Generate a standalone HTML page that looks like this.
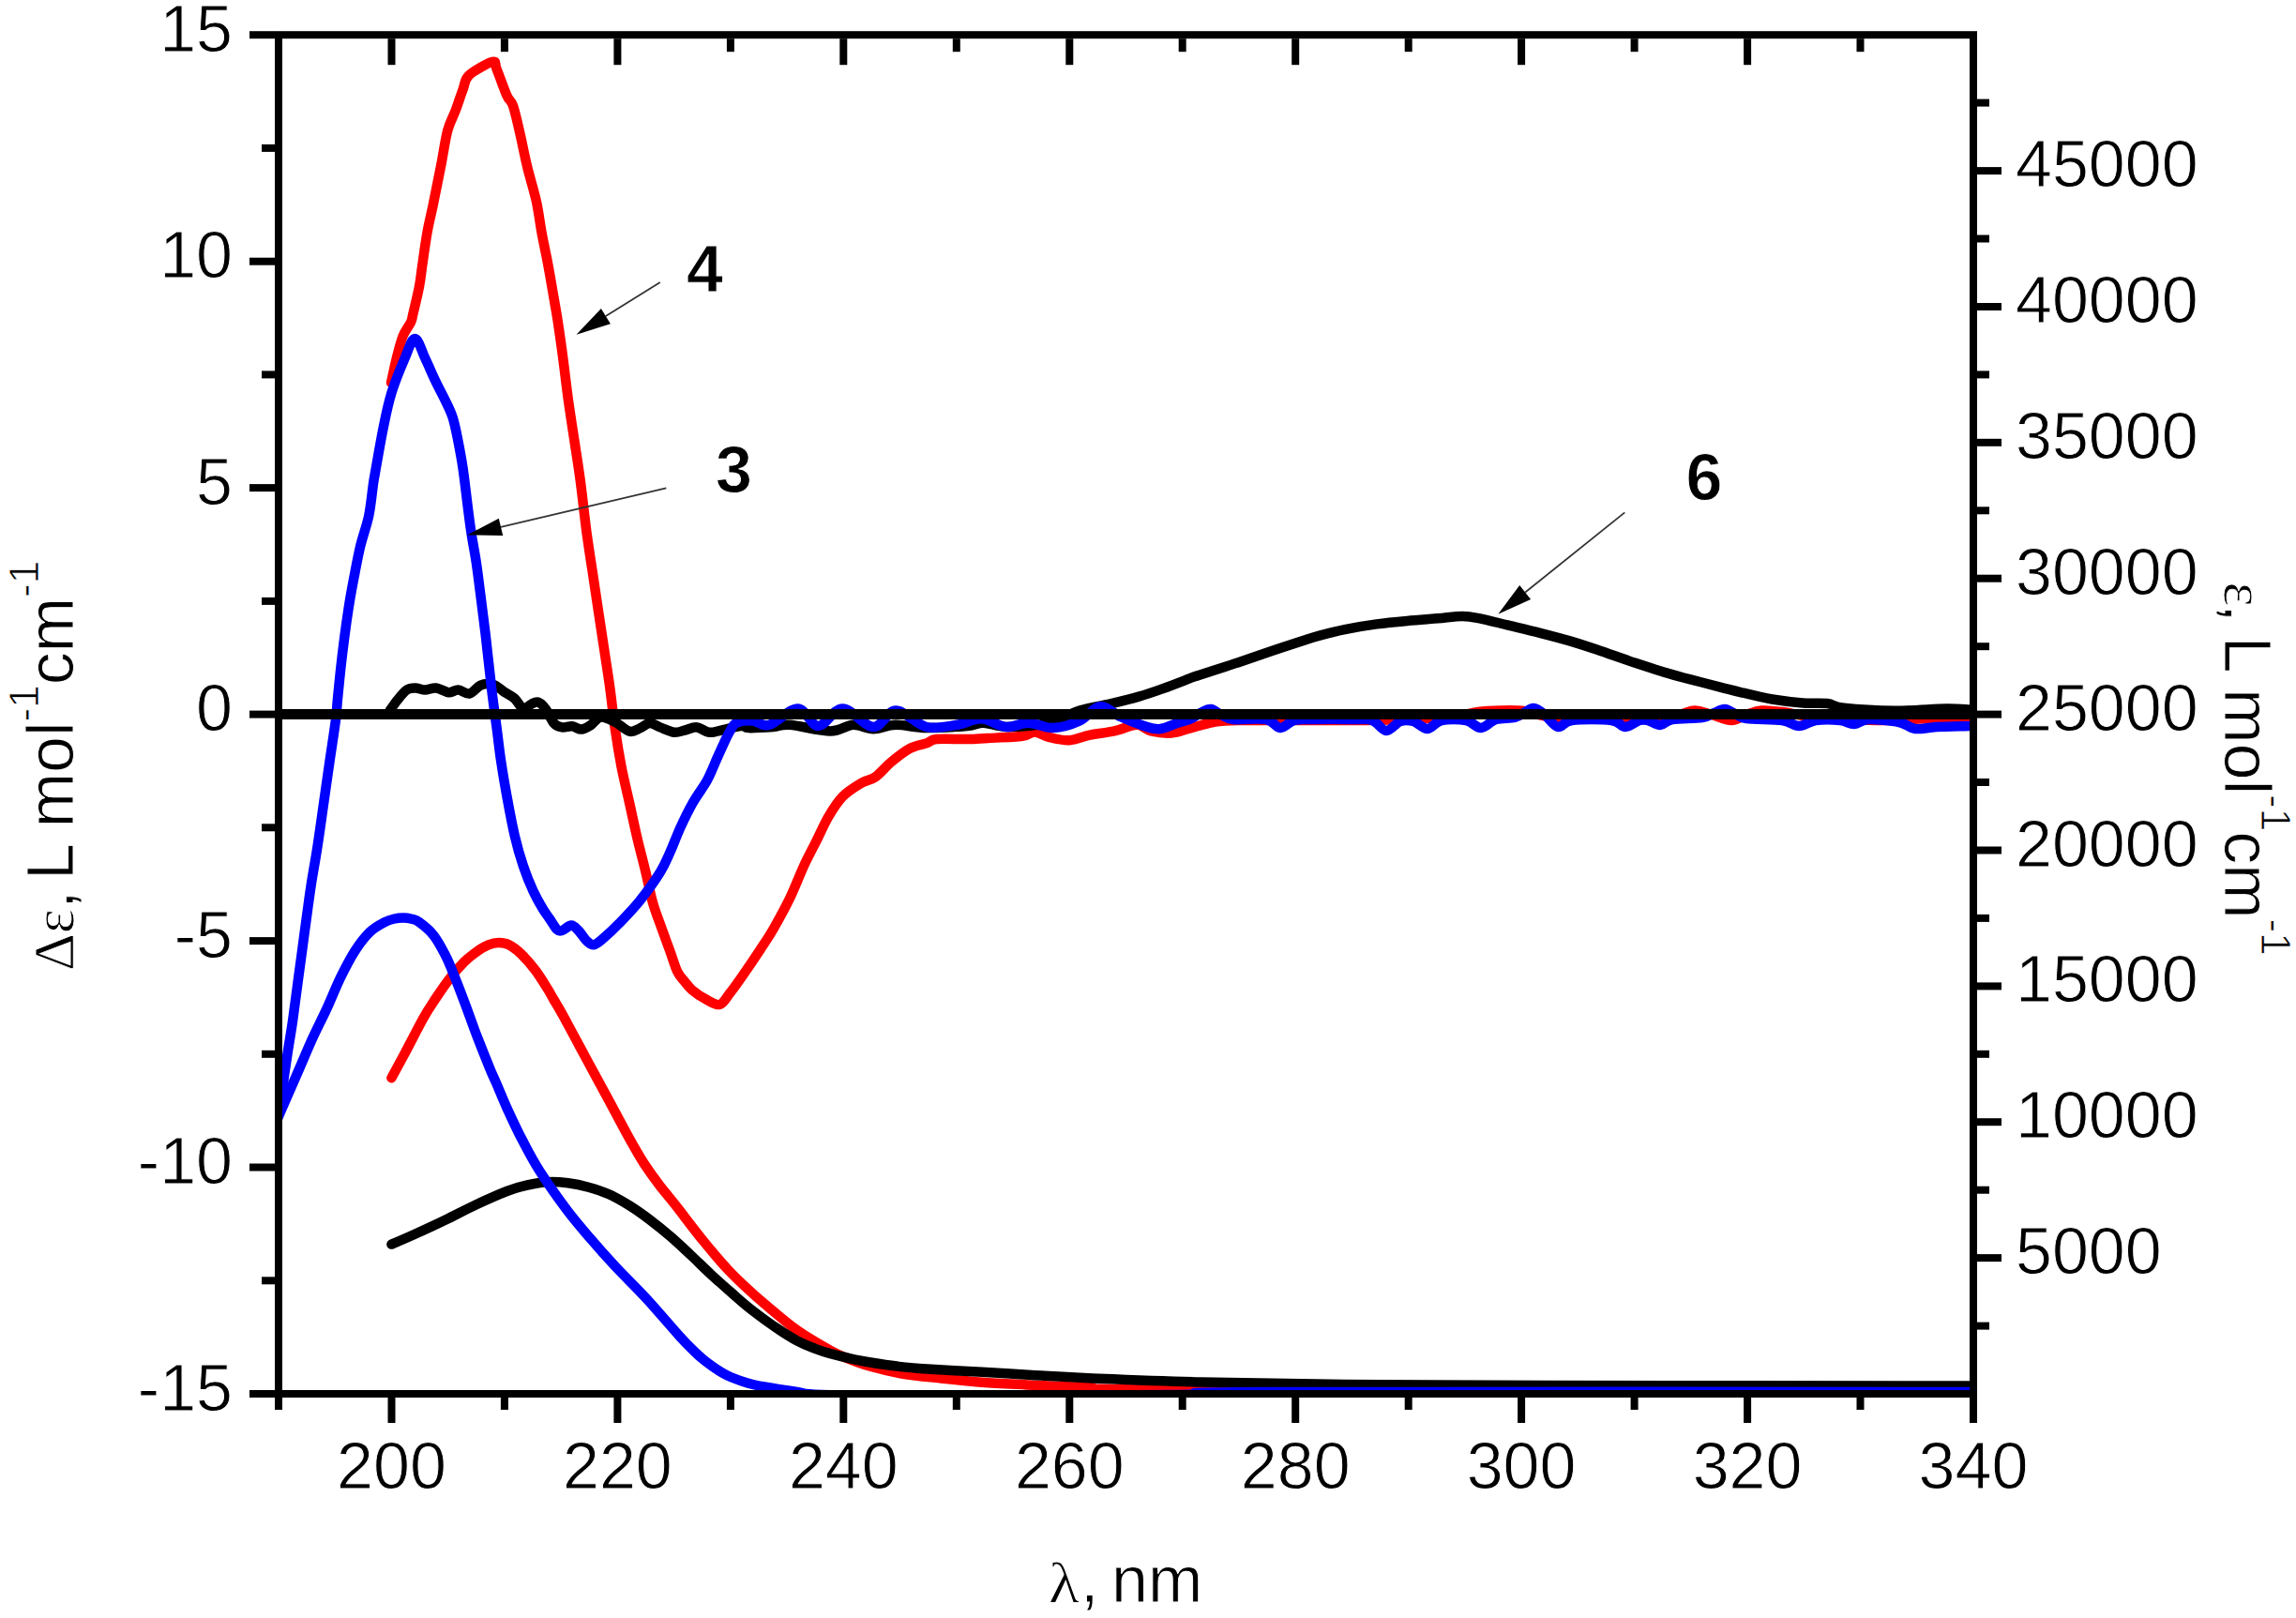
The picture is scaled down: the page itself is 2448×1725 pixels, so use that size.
<!DOCTYPE html>
<html><head><meta charset="utf-8"><title>CD and UV spectra</title>
<style>html,body{margin:0;padding:0;background:#fff}svg{display:block}</style></head>
<body>
<svg width="2448" height="1725" viewBox="0 0 2448 1725">
<defs><clipPath id="plot"><rect x="297.0" y="37.2" width="1807.0" height="1452.8"/></clipPath></defs>
<rect width="2448" height="1725" fill="#fff"/>
<g clip-path="url(#plot)" fill="none" stroke-width="10.5" stroke-linejoin="round" stroke-linecap="round">
<path d="M417.4 1149.2C419.8 1144.8 426.0 1133.5 431.6 1123.0C437.2 1112.5 445.7 1095.7 451.1 1086.0C456.5 1076.3 459.5 1072.1 464.2 1065.0C468.9 1057.9 474.4 1049.7 479.5 1043.2C484.6 1036.7 490.0 1030.5 494.7 1025.8C499.4 1021.1 503.5 1018.0 507.8 1014.9C512.1 1011.8 516.8 1008.9 520.8 1007.3C524.8 1005.7 528.1 1005.1 531.7 1005.1C535.3 1005.1 538.6 1005.3 542.6 1007.3C546.6 1009.3 551.0 1012.6 555.7 1017.1C560.4 1021.6 566.2 1028.3 570.9 1034.5C575.6 1040.7 580.8 1049.4 584.0 1054.5C587.2 1059.6 587.2 1060.2 590.0 1065.0C592.8 1069.8 595.8 1074.4 600.5 1083.0C605.2 1091.6 612.5 1105.3 618.5 1116.5C624.5 1127.7 630.4 1138.6 636.6 1150.0C642.8 1161.4 649.2 1173.3 655.5 1185.0C661.8 1196.7 669.2 1210.7 674.5 1220.0C679.8 1229.3 682.1 1233.6 687.0 1241.0C691.9 1248.4 698.4 1257.4 703.8 1264.5C709.2 1271.6 711.6 1273.9 719.2 1283.6C726.9 1293.3 740.3 1311.2 749.7 1322.8C759.1 1334.4 767.9 1344.7 775.8 1353.2C783.7 1361.7 790.5 1367.9 797.0 1374.0C803.5 1380.1 806.0 1382.4 814.8 1389.7C823.6 1397.0 838.1 1409.8 849.7 1418.1C861.3 1426.4 875.8 1434.4 884.5 1439.3C893.2 1444.2 894.7 1444.6 902.0 1447.5C909.3 1450.4 918.4 1454.0 928.1 1456.8C937.8 1459.6 947.4 1462.1 960.0 1464.2C972.6 1466.3 989.1 1467.9 1003.6 1469.5C1018.1 1471.1 1031.9 1472.6 1047.1 1473.8C1062.3 1475.0 1076.2 1475.5 1095.0 1476.4C1113.8 1477.3 1134.2 1478.2 1160.0 1479.0C1185.8 1479.8 1093.3 1480.5 1250.0 1481.0C1406.7 1481.5 1958.3 1481.8 2100.0 1482.0" stroke="#f00"/>
<path d="M417.4 1326.6C421.6 1324.8 432.8 1320.0 442.4 1315.7C452.0 1311.4 464.2 1305.8 475.1 1300.5C486.0 1295.2 496.9 1289.3 507.8 1284.2C518.7 1279.1 531.3 1273.5 540.4 1270.0C549.5 1266.5 554.9 1265.1 562.2 1263.5C569.5 1261.9 576.7 1260.6 584.0 1260.2C591.3 1259.8 598.5 1260.4 605.8 1261.3C613.0 1262.2 620.2 1263.7 627.5 1265.7C634.8 1267.7 642.0 1270.0 649.3 1273.3C656.6 1276.6 663.8 1280.8 671.1 1285.3C678.4 1289.8 685.6 1295.0 692.9 1300.5C700.1 1306.0 707.4 1311.8 714.6 1318.0C721.9 1324.2 729.1 1331.2 736.4 1338.0C743.7 1344.8 750.9 1352.1 758.2 1358.8C765.5 1365.5 773.5 1372.6 780.0 1378.3C786.5 1384.0 791.2 1388.3 797.0 1393.0C802.8 1397.7 809.0 1402.3 814.8 1406.6C820.6 1410.8 826.2 1414.7 832.0 1418.5C837.8 1422.3 843.9 1426.2 849.7 1429.3C855.5 1432.4 861.2 1434.8 867.0 1437.0C872.8 1439.2 875.8 1440.5 884.5 1442.8C893.2 1445.1 907.8 1448.8 919.4 1451.0C931.0 1453.2 944.1 1455.0 954.2 1456.3C964.3 1457.6 964.5 1457.8 980.0 1458.9C995.5 1460.0 1027.1 1461.6 1047.1 1462.8C1067.1 1464.0 1081.2 1464.9 1100.0 1466.0C1118.8 1467.1 1130.0 1468.0 1160.0 1469.3C1190.0 1470.5 1234.5 1472.4 1280.0 1473.5C1325.5 1474.6 1371.3 1475.4 1433.0 1476.0C1494.7 1476.6 1538.8 1476.8 1650.0 1477.0C1761.2 1477.2 2025.0 1477.4 2100.0 1477.5" stroke="#000"/>
<path d="M288.0 1212.0C290.2 1206.8 296.3 1191.9 301.0 1181.0C305.7 1170.1 310.8 1158.7 316.1 1146.4C321.5 1134.1 327.7 1119.2 333.1 1107.2C338.6 1095.2 343.8 1085.4 348.8 1074.5C353.8 1063.6 358.2 1052.1 363.2 1041.9C368.2 1031.7 373.7 1021.2 378.9 1013.1C384.1 1005.0 389.3 998.5 394.5 993.5C399.7 988.5 405.8 985.4 410.2 983.1C414.6 980.8 417.4 980.3 420.7 979.5C424.0 978.7 426.9 978.5 429.8 978.5C432.7 978.5 435.2 978.7 438.0 979.5C440.8 980.3 442.7 980.1 446.8 983.1C450.9 986.1 457.7 991.3 462.5 997.4C467.3 1003.5 471.6 1011.9 475.5 1019.7C479.4 1027.5 482.5 1035.8 486.0 1044.5C489.5 1053.2 492.6 1061.5 496.5 1071.9C500.4 1082.4 505.1 1095.9 509.5 1107.2C513.9 1118.5 519.4 1132.1 522.6 1139.9C525.8 1147.7 525.7 1146.9 528.8 1154.0C531.9 1161.1 536.4 1172.5 541.1 1182.7C545.8 1192.9 551.1 1204.4 556.8 1215.3C562.5 1226.2 567.3 1235.8 575.1 1248.0C582.9 1260.2 594.5 1276.7 603.6 1288.8C612.7 1300.9 621.0 1310.5 629.7 1320.7C638.4 1330.9 645.9 1339.3 655.9 1350.0C665.9 1360.7 678.3 1372.6 689.7 1385.0C701.1 1397.4 716.1 1415.2 724.5 1424.5C732.9 1433.8 735.8 1436.3 740.0 1440.5C744.2 1444.7 746.7 1446.8 750.0 1449.5C753.3 1452.2 756.7 1454.7 760.0 1457.0C763.3 1459.3 766.7 1461.6 770.0 1463.5C773.3 1465.4 775.5 1466.7 780.0 1468.5C784.5 1470.3 791.2 1472.8 797.0 1474.5C802.8 1476.2 806.0 1476.9 814.8 1478.5C823.6 1480.1 839.8 1482.6 850.0 1484.0C860.2 1485.4 851.0 1486.3 876.0 1487.0C901.0 1487.7 937.7 1488.0 1000.0 1488.0C1062.3 1488.0 1190.5 1487.7 1250.0 1487.0C1309.5 1486.3 1215.3 1484.5 1357.0 1484.0C1498.7 1483.5 1976.2 1484.0 2100.0 1484.0" stroke="#00f"/>
<path d="M417.0 408.0C418.0 403.7 420.7 390.2 422.8 382.0C424.9 373.8 426.9 365.2 429.4 358.8C431.9 352.4 436.2 347.6 438.0 343.6C439.8 339.6 438.8 341.1 440.3 334.9C441.8 328.7 445.2 315.0 446.8 306.6C448.4 298.2 448.6 294.6 450.0 284.8C451.4 275.0 453.5 259.1 455.5 247.8C457.5 236.6 459.5 229.7 462.0 217.3C464.5 205.0 468.1 186.8 470.7 173.7C473.2 160.6 474.8 148.3 477.3 138.9C479.9 129.5 483.3 124.3 486.0 117.0C488.7 109.7 491.2 101.5 493.6 95.3C496.0 89.1 494.9 85.0 500.2 80.1C505.5 75.2 520.3 67.0 525.2 65.9C530.1 64.8 527.0 67.6 529.5 73.6C532.0 79.6 537.5 95.4 540.4 101.9C543.3 108.4 544.6 105.9 547.0 112.8C549.4 119.7 552.1 132.3 554.6 143.2C557.1 154.1 559.3 166.1 562.2 178.1C565.1 190.1 569.5 203.5 572.0 215.1C574.5 226.7 575.5 236.9 577.5 247.8C579.5 258.7 581.8 268.8 584.0 280.4C586.2 292.0 588.7 307.0 590.5 317.5C592.3 328.0 593.3 332.9 594.9 343.6C596.5 354.4 598.5 368.3 600.3 382.0C602.1 395.7 603.8 411.1 605.8 425.6C607.8 440.1 610.1 454.6 612.3 469.1C614.5 483.6 616.6 496.4 618.8 512.7C621.0 529.0 623.2 550.8 625.4 567.1C627.6 583.4 629.7 596.2 631.9 610.7C634.1 625.2 636.2 639.7 638.4 654.2C640.6 668.7 643.0 684.5 645.0 697.8C647.0 711.1 648.6 720.7 650.4 734.0C652.2 747.3 653.9 763.8 655.9 777.6C657.9 791.4 659.9 803.7 662.4 816.8C664.9 829.9 668.2 843.0 671.1 856.0C674.0 869.0 676.9 882.8 679.8 895.1C682.7 907.4 685.8 918.7 688.5 930.0C691.2 941.3 693.2 952.7 696.1 962.7C699.0 972.7 702.6 981.6 705.6 990.0C708.6 998.4 711.2 1005.4 714.0 1013.0C716.8 1020.6 719.5 1030.2 722.2 1035.8C724.9 1041.4 727.4 1043.2 730.0 1046.5C732.6 1049.8 734.2 1052.3 737.9 1055.4C741.6 1058.5 747.4 1062.6 752.3 1065.2C757.2 1067.8 762.9 1072.1 767.3 1071.0C771.6 1069.9 773.8 1064.5 778.4 1058.6C783.0 1052.7 789.3 1043.6 794.8 1035.8C800.2 1028.0 806.1 1019.2 811.1 1011.6C816.1 1004.0 819.7 998.9 824.8 990.0C829.9 981.1 836.5 969.1 841.9 958.0C847.3 946.9 852.4 933.3 857.1 923.1C861.8 912.9 865.9 905.7 870.2 897.0C874.6 888.3 878.5 878.8 883.2 870.8C887.9 862.8 892.7 855.1 898.5 849.1C904.3 843.1 912.3 838.4 918.1 834.9C923.9 831.4 927.9 832.2 933.3 828.4C938.7 824.6 944.5 817.1 950.7 812.0C956.9 806.9 964.1 801.2 970.3 797.9C976.5 794.6 983.1 794.0 987.8 792.4C992.5 790.8 991.4 788.8 998.6 788.1C1005.9 787.4 1022.2 788.3 1031.3 788.1C1040.4 787.9 1043.3 787.5 1053.1 787.0C1062.9 786.5 1081.8 785.9 1090.1 784.8C1098.4 783.7 1098.5 780.3 1103.2 780.5C1107.9 780.7 1112.2 784.4 1118.4 785.9C1124.6 787.4 1132.9 789.6 1140.2 789.2C1147.5 788.8 1154.0 785.3 1162.0 783.7C1170.0 782.1 1179.8 781.2 1188.1 779.4C1196.4 777.6 1205.6 772.8 1212.1 772.8C1218.6 772.8 1221.1 777.9 1227.3 779.4C1233.5 780.9 1242.0 782.1 1249.1 781.6C1256.2 781.1 1262.6 778.0 1270.0 776.1C1277.4 774.2 1285.3 771.4 1293.6 770.0C1301.9 768.6 1302.3 768.3 1320.0 768.0C1337.7 767.7 1378.3 768.0 1400.0 768.0C1421.7 768.0 1433.3 768.2 1450.0 768.0C1466.7 767.8 1483.3 767.7 1500.0 767.0C1516.7 766.3 1537.3 765.3 1550.0 764.0C1562.7 762.7 1567.7 760.1 1576.0 759.0C1584.3 757.9 1591.8 757.7 1600.0 757.5C1608.2 757.3 1617.5 757.1 1625.0 758.0C1632.5 758.9 1635.8 761.7 1645.0 763.0C1654.2 764.3 1660.8 765.5 1680.0 766.0C1699.2 766.5 1741.7 766.7 1760.0 766.0C1778.3 765.3 1782.2 763.4 1790.0 762.0C1797.8 760.6 1801.2 757.5 1807.0 757.5C1812.8 757.5 1818.5 760.2 1825.0 762.0C1831.5 763.8 1839.8 768.0 1846.0 768.0C1852.2 768.0 1856.7 763.8 1862.0 762.0C1867.3 760.2 1871.7 758.0 1878.0 757.5C1884.3 757.0 1891.3 757.9 1900.0 759.0C1908.7 760.1 1920.0 762.8 1930.0 764.0C1940.0 765.2 1946.8 765.3 1960.0 766.0C1973.2 766.7 1992.3 768.0 2009.0 768.0C2025.7 768.0 2044.8 766.3 2060.0 766.0C2075.2 765.7 2093.3 766.0 2100.0 766.0" stroke="#f00"/>
<path d="M415.4 758.0C416.8 756.0 420.9 749.8 424.0 746.0C427.1 742.2 430.6 737.6 433.7 735.5C436.8 733.4 439.6 733.5 442.9 733.5C446.2 733.5 449.6 735.5 453.3 735.5C457.0 735.5 461.0 733.0 465.1 733.5C469.2 734.0 474.3 737.9 478.2 738.2C482.1 738.5 484.9 735.3 488.6 735.5C492.3 735.7 496.5 740.3 500.4 739.5C504.3 738.7 508.5 732.5 512.1 730.8C515.7 729.0 519.0 728.8 522.0 729.0C525.0 729.2 527.3 730.5 530.0 732.0C532.7 733.5 535.2 736.1 538.3 738.2C541.4 740.3 545.4 741.8 548.7 744.7C552.0 747.6 555.0 754.5 557.9 755.5C560.8 756.5 563.4 752.1 566.0 751.0C568.6 749.9 570.9 747.8 573.5 748.6C576.1 749.4 579.0 752.1 581.8 755.8C584.6 759.5 587.6 767.7 590.5 771.0C593.4 774.3 595.9 774.9 599.2 775.4C602.5 775.9 606.7 773.9 610.1 774.3C613.5 774.7 616.6 777.8 619.9 777.6C623.2 777.4 626.2 775.4 629.7 773.2C633.2 771.0 636.2 765.0 640.6 764.5C645.0 764.0 650.8 767.4 655.9 769.9C661.0 772.4 666.8 778.6 671.1 779.7C675.5 780.8 678.4 778.0 682.0 776.5C685.6 775.0 689.3 771.2 692.9 771.0C696.5 770.8 699.4 773.8 703.8 775.4C708.1 777.0 714.6 780.3 719.0 780.8C723.4 781.3 725.9 779.5 729.9 778.6C733.9 777.7 738.6 775.0 743.0 775.4C747.4 775.8 751.6 780.3 756.0 780.8C760.4 781.3 763.4 779.7 769.1 778.6C774.8 777.5 785.1 774.4 790.0 774.0C794.9 773.6 792.6 775.9 798.3 776.1C804.0 776.3 817.1 775.5 824.4 775.0C831.7 774.5 831.7 772.1 841.9 772.8C852.1 773.5 874.1 779.4 885.4 779.4C896.6 779.4 901.8 773.2 909.4 772.8C917.0 772.4 923.5 777.2 931.1 777.2C938.7 777.2 945.7 773.0 955.1 772.8C964.5 772.6 975.1 775.9 987.8 776.1C1000.5 776.3 1021.1 774.8 1031.3 773.9C1041.5 773.0 1041.4 770.5 1048.7 770.7C1056.0 770.9 1063.3 775.0 1074.9 775.0C1086.5 775.0 1105.7 773.6 1118.4 770.7C1131.1 767.8 1140.2 761.0 1151.1 757.6C1162.0 754.2 1173.3 752.9 1183.8 750.4C1194.3 747.9 1204.9 745.3 1214.3 742.6C1223.7 739.9 1230.7 737.4 1240.0 734.1C1249.3 730.8 1263.7 725.1 1270.0 722.7C1276.3 720.3 1271.9 721.9 1278.0 719.9C1284.1 717.9 1298.9 713.2 1306.6 710.7C1314.3 708.2 1315.3 707.8 1324.0 704.9C1332.7 701.9 1348.0 696.7 1358.9 693.1C1369.8 689.4 1381.4 685.5 1389.4 682.9C1397.4 680.3 1399.2 679.6 1406.8 677.6C1414.4 675.5 1424.9 672.8 1435.1 670.8C1445.3 668.8 1456.9 666.9 1467.8 665.4C1478.7 663.9 1489.5 662.9 1500.4 661.9C1511.3 660.9 1523.3 660.1 1533.1 659.3C1542.9 658.4 1551.9 656.9 1559.2 656.9C1566.5 656.9 1568.4 657.4 1576.7 659.1C1585.0 660.8 1598.4 664.3 1609.3 666.9C1620.2 669.5 1631.1 672.0 1642.0 674.8C1652.9 677.6 1664.3 680.6 1674.7 683.6C1685.1 686.7 1694.0 689.7 1704.4 693.2C1714.8 696.7 1726.2 700.9 1737.1 704.6C1748.0 708.2 1758.9 711.9 1769.8 715.2C1780.7 718.6 1791.5 721.5 1802.4 724.4C1813.3 727.3 1826.0 730.4 1835.1 732.8C1844.2 735.1 1847.8 736.2 1856.9 738.3C1866.0 740.5 1878.6 743.6 1889.5 745.5C1900.4 747.3 1912.4 748.7 1922.2 749.4C1932.0 750.2 1941.0 749.1 1948.3 750.0C1955.6 750.9 1953.8 753.5 1965.8 754.8C1977.8 756.1 2002.1 757.6 2020.2 757.7C2038.3 757.8 2061.4 755.7 2074.7 755.5C2088.0 755.3 2095.8 756.4 2100.0 756.6" stroke="#000"/>
<path d="M293.0 1200.0C294.4 1193.2 299.4 1168.4 301.1 1159.5C302.8 1150.6 302.1 1152.9 303.1 1146.4C304.1 1139.9 305.5 1130.1 307.0 1120.3C308.5 1110.5 310.5 1099.6 312.2 1087.6C313.9 1075.6 315.6 1061.5 317.4 1048.4C319.1 1035.3 320.9 1022.2 322.7 1009.2C324.4 996.2 326.4 981.5 327.9 970.5C329.4 959.5 330.1 954.0 331.8 942.9C333.5 931.8 336.1 917.9 338.3 903.7C340.5 889.6 342.7 873.2 344.9 858.0C347.1 842.8 349.2 827.3 351.4 812.3C353.6 797.3 356.5 778.8 357.9 767.8C359.3 756.8 359.0 755.1 359.9 746.0C360.8 736.9 362.0 724.2 363.2 713.3C364.4 702.4 365.7 691.6 367.1 680.7C368.5 669.8 370.0 658.9 371.7 648.0C373.4 637.1 375.4 626.2 377.5 615.3C379.6 604.4 381.5 593.6 384.1 582.7C386.7 571.8 390.9 561.0 393.2 550.0C395.5 539.0 396.8 524.1 397.9 516.4C399.0 508.7 398.2 514.1 400.0 504.0C401.8 493.9 405.8 470.2 408.7 456.0C411.6 441.8 413.6 431.3 417.4 419.0C421.2 406.7 427.4 391.7 431.6 382.0C435.8 372.3 438.8 361.0 442.4 361.0C446.0 361.0 449.7 374.5 453.3 382.0C456.9 389.5 460.6 398.4 464.2 406.0C467.8 413.6 472.0 421.2 475.1 427.7C478.2 434.2 480.5 438.3 482.7 445.2C484.9 452.1 486.4 460.0 488.2 469.1C490.0 478.2 492.0 488.7 493.6 499.6C495.2 510.5 496.6 523.1 498.0 534.4C499.4 545.6 500.7 556.2 502.3 567.1C503.9 578.0 506.2 588.9 507.8 599.8C509.4 610.7 510.5 619.7 512.1 632.4C513.7 645.1 515.6 659.1 517.6 676.0C519.6 692.9 522.1 717.1 524.1 734.0C526.1 750.9 528.1 764.6 529.8 777.6C531.5 790.6 532.4 800.0 534.3 812.3C536.1 824.6 538.5 838.4 540.9 851.5C543.3 864.6 545.9 878.7 548.7 890.7C551.5 902.7 554.6 913.5 557.9 923.3C561.2 933.1 564.8 941.9 568.3 949.5C571.8 957.1 575.8 964.0 578.8 969.0C581.8 974.0 583.5 975.8 586.0 979.5C588.5 983.2 591.6 988.9 593.8 991.0C596.0 993.1 596.7 992.7 599.2 992.0C601.7 991.3 606.1 986.6 609.0 986.6C611.9 986.6 614.0 989.3 616.7 992.0C619.4 994.7 622.7 1000.5 625.4 1003.0C628.1 1005.5 630.1 1007.7 633.0 1007.3C635.9 1006.9 638.3 1004.6 642.8 1000.8C647.3 997.0 653.7 991.1 660.2 984.4C666.7 977.7 674.7 969.6 682.0 960.5C689.3 951.4 698.4 938.7 703.8 930.0C709.2 921.3 711.0 916.2 714.6 908.2C718.2 900.2 721.5 890.8 725.5 882.1C729.5 873.4 733.9 864.4 738.6 856.0C743.3 847.6 749.5 840.0 753.9 832.0C758.2 824.0 761.7 814.7 764.7 808.0C767.7 801.3 769.8 796.7 772.0 792.0C774.2 787.3 775.8 783.5 778.0 780.0C780.2 776.5 781.1 772.6 785.2 770.7C789.3 768.8 796.9 768.1 802.7 768.5C808.5 768.9 812.1 775.0 820.1 772.8C828.1 770.6 841.9 755.2 850.6 755.4C859.3 755.6 864.4 773.9 872.4 773.9C880.4 773.9 888.7 755.2 898.5 755.4C908.3 755.6 921.7 774.6 931.1 775.0C940.5 775.4 945.7 757.6 955.1 757.6C964.5 757.6 976.9 772.5 987.8 775.0C998.7 777.5 1010.6 774.2 1020.4 772.8C1030.2 771.3 1037.9 765.9 1046.6 766.3C1055.3 766.7 1064.3 774.3 1072.7 775.0C1081.1 775.7 1088.4 770.5 1096.7 770.7C1105.0 770.9 1113.7 776.5 1122.8 776.1C1131.9 775.7 1142.8 772.3 1151.1 768.5C1159.4 764.7 1165.6 753.9 1172.9 753.2C1180.2 752.5 1187.5 760.8 1194.7 764.1C1202.0 767.4 1209.5 770.6 1216.4 772.8C1223.3 775.0 1229.5 777.6 1236.0 777.2C1242.5 776.9 1249.9 772.5 1255.6 770.7C1261.3 768.9 1265.9 768.1 1270.0 766.3C1274.1 764.5 1276.5 761.7 1280.0 760.0C1283.5 758.3 1287.3 755.7 1291.0 756.0C1294.7 756.3 1298.0 760.2 1302.0 762.0C1306.0 763.8 1307.0 766.2 1315.0 767.0C1323.0 767.8 1341.7 765.5 1350.0 767.0C1358.3 768.5 1360.0 775.8 1365.0 776.0C1370.0 776.2 1374.2 769.5 1380.0 768.0C1385.8 766.5 1390.0 767.2 1400.0 767.0C1410.0 766.8 1429.5 766.8 1440.0 767.0C1450.5 767.2 1456.7 766.0 1463.0 768.0C1469.3 770.0 1473.0 778.8 1478.0 779.0C1483.0 779.2 1488.2 770.7 1493.0 769.0C1497.8 767.3 1502.2 767.7 1507.0 769.0C1511.8 770.3 1517.0 777.2 1522.0 777.0C1527.0 776.8 1530.2 769.5 1537.0 768.0C1543.8 766.5 1556.0 766.7 1563.0 768.0C1570.0 769.3 1573.7 776.2 1579.0 776.0C1584.3 775.8 1589.0 768.8 1595.0 767.0C1601.0 765.2 1610.0 766.2 1615.0 765.0C1620.0 763.8 1621.7 761.7 1625.0 760.0C1628.3 758.3 1631.5 754.8 1635.0 755.0C1638.5 755.2 1641.7 757.7 1646.0 761.0C1650.3 764.3 1656.0 773.8 1661.0 775.0C1666.0 776.2 1666.5 769.2 1676.0 768.0C1685.5 766.8 1708.5 766.8 1718.0 768.0C1727.5 769.2 1728.0 775.0 1733.0 775.0C1738.0 775.0 1744.0 769.2 1748.0 768.0C1752.0 766.8 1753.3 767.2 1757.0 768.0C1760.7 768.8 1765.7 773.2 1770.0 773.0C1774.3 772.8 1775.5 768.3 1783.0 767.0C1790.5 765.7 1807.5 766.2 1815.0 765.0C1822.5 763.8 1824.0 761.5 1828.0 760.0C1832.0 758.5 1835.3 755.8 1839.0 756.0C1842.7 756.2 1846.2 759.3 1850.0 761.0C1853.8 762.7 1853.7 764.8 1862.0 766.0C1870.3 767.2 1890.7 766.7 1900.0 768.0C1909.3 769.3 1912.0 774.0 1918.0 774.0C1924.0 774.0 1928.7 769.0 1936.0 768.0C1943.3 767.0 1955.2 767.3 1962.0 768.0C1968.8 768.7 1972.0 772.2 1977.0 772.0C1982.0 771.8 1984.0 767.3 1992.0 767.0C2000.0 766.7 2016.7 768.3 2025.0 770.0C2033.3 771.7 2035.3 776.2 2042.0 777.0C2048.7 777.8 2055.3 775.5 2065.0 775.0C2074.7 774.5 2094.2 774.2 2100.0 774.0" stroke="#00f"/>
</g>
<line x1="297.0" y1="761.6" x2="2104.0" y2="761.6" stroke="#000" stroke-width="11"/>
<g stroke="#000" stroke-width="8" fill="none">
<rect x="297.0" y="37.2" width="1807.0" height="1448.8"/>
<line x1="297.0" y1="1490.0" x2="297.0" y2="1503.0"/>
<line x1="417.5" y1="1490.0" x2="417.5" y2="1517.0"/>
<line x1="417.5" y1="41.2" x2="417.5" y2="69.2"/>
<line x1="537.9" y1="1490.0" x2="537.9" y2="1503.0"/>
<line x1="537.9" y1="41.2" x2="537.9" y2="55.2"/>
<line x1="658.4" y1="1490.0" x2="658.4" y2="1517.0"/>
<line x1="658.4" y1="41.2" x2="658.4" y2="69.2"/>
<line x1="778.9" y1="1490.0" x2="778.9" y2="1503.0"/>
<line x1="778.9" y1="41.2" x2="778.9" y2="55.2"/>
<line x1="899.3" y1="1490.0" x2="899.3" y2="1517.0"/>
<line x1="899.3" y1="41.2" x2="899.3" y2="69.2"/>
<line x1="1019.8" y1="1490.0" x2="1019.8" y2="1503.0"/>
<line x1="1019.8" y1="41.2" x2="1019.8" y2="55.2"/>
<line x1="1140.3" y1="1490.0" x2="1140.3" y2="1517.0"/>
<line x1="1140.3" y1="41.2" x2="1140.3" y2="69.2"/>
<line x1="1260.7" y1="1490.0" x2="1260.7" y2="1503.0"/>
<line x1="1260.7" y1="41.2" x2="1260.7" y2="55.2"/>
<line x1="1381.2" y1="1490.0" x2="1381.2" y2="1517.0"/>
<line x1="1381.2" y1="41.2" x2="1381.2" y2="69.2"/>
<line x1="1501.7" y1="1490.0" x2="1501.7" y2="1503.0"/>
<line x1="1501.7" y1="41.2" x2="1501.7" y2="55.2"/>
<line x1="1622.1" y1="1490.0" x2="1622.1" y2="1517.0"/>
<line x1="1622.1" y1="41.2" x2="1622.1" y2="69.2"/>
<line x1="1742.6" y1="1490.0" x2="1742.6" y2="1503.0"/>
<line x1="1742.6" y1="41.2" x2="1742.6" y2="55.2"/>
<line x1="1863.1" y1="1490.0" x2="1863.1" y2="1517.0"/>
<line x1="1863.1" y1="41.2" x2="1863.1" y2="69.2"/>
<line x1="1983.5" y1="1490.0" x2="1983.5" y2="1503.0"/>
<line x1="1983.5" y1="41.2" x2="1983.5" y2="55.2"/>
<line x1="2104.0" y1="1490.0" x2="2104.0" y2="1517.0"/>
<line x1="266.0" y1="37.2" x2="293.0" y2="37.2"/>
<line x1="279.0" y1="157.9" x2="293.0" y2="157.9"/>
<line x1="266.0" y1="278.7" x2="293.0" y2="278.7"/>
<line x1="279.0" y1="399.4" x2="293.0" y2="399.4"/>
<line x1="266.0" y1="520.1" x2="293.0" y2="520.1"/>
<line x1="279.0" y1="640.9" x2="293.0" y2="640.9"/>
<line x1="266.0" y1="761.6" x2="293.0" y2="761.6"/>
<line x1="279.0" y1="882.3" x2="293.0" y2="882.3"/>
<line x1="266.0" y1="1003.1" x2="293.0" y2="1003.1"/>
<line x1="279.0" y1="1123.8" x2="293.0" y2="1123.8"/>
<line x1="266.0" y1="1244.5" x2="293.0" y2="1244.5"/>
<line x1="279.0" y1="1365.3" x2="293.0" y2="1365.3"/>
<line x1="266.0" y1="1486.0" x2="293.0" y2="1486.0"/>
<line x1="2108.0" y1="1413.6" x2="2121.0" y2="1413.6"/>
<line x1="2108.0" y1="1341.1" x2="2134.0" y2="1341.1"/>
<line x1="2108.0" y1="1268.7" x2="2121.0" y2="1268.7"/>
<line x1="2108.0" y1="1196.2" x2="2134.0" y2="1196.2"/>
<line x1="2108.0" y1="1123.8" x2="2121.0" y2="1123.8"/>
<line x1="2108.0" y1="1051.4" x2="2134.0" y2="1051.4"/>
<line x1="2108.0" y1="978.9" x2="2121.0" y2="978.9"/>
<line x1="2108.0" y1="906.5" x2="2134.0" y2="906.5"/>
<line x1="2108.0" y1="834.0" x2="2121.0" y2="834.0"/>
<line x1="2108.0" y1="761.6" x2="2134.0" y2="761.6"/>
<line x1="2108.0" y1="689.2" x2="2121.0" y2="689.2"/>
<line x1="2108.0" y1="616.7" x2="2134.0" y2="616.7"/>
<line x1="2108.0" y1="544.3" x2="2121.0" y2="544.3"/>
<line x1="2108.0" y1="471.8" x2="2134.0" y2="471.8"/>
<line x1="2108.0" y1="399.4" x2="2121.0" y2="399.4"/>
<line x1="2108.0" y1="327.0" x2="2134.0" y2="327.0"/>
<line x1="2108.0" y1="254.5" x2="2121.0" y2="254.5"/>
<line x1="2108.0" y1="182.1" x2="2134.0" y2="182.1"/>
<line x1="2108.0" y1="109.6" x2="2121.0" y2="109.6"/>
</g>
<g font-family="'Liberation Sans', Arial, sans-serif" font-size="70" fill="#000" stroke="#fff" stroke-width="0.9">
<text x="417.5" y="1586.5" text-anchor="middle">200</text>
<text x="658.4" y="1586.5" text-anchor="middle">220</text>
<text x="899.3" y="1586.5" text-anchor="middle">240</text>
<text x="1140.3" y="1586.5" text-anchor="middle">260</text>
<text x="1381.2" y="1586.5" text-anchor="middle">280</text>
<text x="1622.1" y="1586.5" text-anchor="middle">300</text>
<text x="1863.1" y="1586.5" text-anchor="middle">320</text>
<text x="2104.0" y="1586.5" text-anchor="middle">340</text>
<text x="248" y="54.7" text-anchor="end">15</text>
<text x="248" y="296.2" text-anchor="end">10</text>
<text x="248" y="537.6" text-anchor="end">5</text>
<text x="248" y="779.1" text-anchor="end">0</text>
<text x="248" y="1020.6" text-anchor="end">-5</text>
<text x="248" y="1262.0" text-anchor="end">-10</text>
<text x="248" y="1503.5" text-anchor="end">-15</text>
<text x="2149" y="1358.1">5000</text>
<text x="2149" y="1213.2">10000</text>
<text x="2149" y="1068.4">15000</text>
<text x="2149" y="923.5">20000</text>
<text x="2149" y="778.6">25000</text>
<text x="2149" y="633.7">30000</text>
<text x="2149" y="488.8">35000</text>
<text x="2149" y="344.0">40000</text>
<text x="2149" y="199.1">45000</text>
<text x="1118" y="1708" font-size="61" font-family="'Liberation Serif', serif" textLength="33" lengthAdjust="spacingAndGlyphs">λ</text>
<text x="1152" y="1708">,</text>
<text x="1185" y="1708">nm</text>
<g transform="translate(78.4 1034) rotate(-90)"><text x="-1" y="0" font-size="62" font-family="'Liberation Serif', serif">Δε</text><text x="65" y="0">,</text><text x="96" y="0">L mol<tspan font-size="44" dy="-37">-1</tspan><tspan dy="37">cm</tspan><tspan font-size="44" dy="-37">-1</tspan></text></g>
<g transform="translate(2372.2 620.5) rotate(90)"><text x="0" y="0" font-size="62" font-family="'Liberation Serif', serif">ε</text><text x="23.5" y="0">,</text><text x="58" y="0">L mol<tspan font-size="44" dy="-39">-1</tspan><tspan dy="39">cm</tspan><tspan font-size="44" dy="-39">-1</tspan></text></g>
<g font-weight="bold">
<text x="732" y="311">4</text>
<text x="763" y="524.6">3</text>
<text x="1797.5" y="533.4">6</text>
</g>
</g>
<line x1="703.8" y1="301.1" x2="645.9" y2="337.1" stroke="#333" stroke-width="1.8"/><polygon points="614.5,356.7 640.9,329.1 650.9,345.2" fill="#000"/>
<line x1="710.3" y1="520.3" x2="534.0" y2="561.9" stroke="#333" stroke-width="1.8"/><polygon points="498.0,570.4 531.8,552.7 536.2,571.1" fill="#000"/>
<line x1="1732.3" y1="546.4" x2="1626.2" y2="631.5" stroke="#333" stroke-width="1.8"/><polygon points="1597.3,654.7 1620.2,624.1 1632.1,639.0" fill="#000"/>
</svg>
</body></html>
